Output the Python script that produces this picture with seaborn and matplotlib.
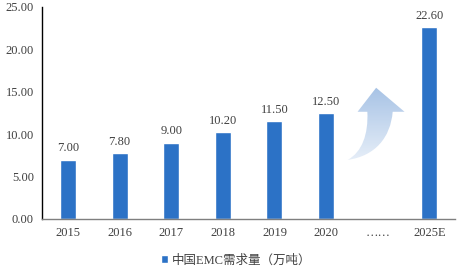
import numpy as np
import pandas as pd
import matplotlib
matplotlib.use("Agg")
import matplotlib.pyplot as plt
import seaborn as sns
from matplotlib.path import Path
from matplotlib.patches import PathPatch
from matplotlib.colors import LinearSegmentedColormap

categories = ["2015", "2016", "2017", "2018", "2019", "2020", "……", "2025E"]
values = [7.00, 7.80, 9.00, 10.20, 11.50, 12.50, np.nan, 22.60]
series_name = "中国EMC需求量（万吨）"
y_ticks = [0, 5, 10, 15, 20, 25]

sns.set_theme(style="white")
FONT = ["Liberation Serif", "Noto Sans CJK SC", "DejaVu Sans"]
plt.rcParams["font.family"] = FONT

bar_color = "#2c72c6"
text_color = "#404040"

df = pd.DataFrame({"cat": categories, "val": values, "series": series_name})

fig = plt.figure(figsize=(4.63, 2.67), dpi=100)
ax = fig.add_axes([0.091, 0.18, 0.892, 0.795])

sns.barplot(data=df, x="cat", y="val", hue="series", palette=[bar_color],
            order=categories, width=0.31, ax=ax, legend=True, saturation=1)

ax.set_ylim(0, 25)
ax.set_xlim(-0.5, len(categories) - 0.5)
ax.set_yticks(y_ticks)
ax.set_yticklabels([f"{t:.2f}" for t in y_ticks], fontsize=9, color=text_color)
ax.set_xticks(range(len(categories)))
ax.set_xticklabels(categories, fontsize=9, color=text_color)
ax.set_xlabel("")
ax.set_ylabel("")
ax.tick_params(axis="y", length=0, pad=6)
ax.tick_params(axis="x", length=0, pad=6)

for s in ["top", "right"]:
    ax.spines[s].set_visible(False)
ax.spines["left"].set_color("#000000")
ax.spines["left"].set_linewidth(1.0)
ax.spines["bottom"].set_color("#7f7f7f")
ax.spines["bottom"].set_linewidth(1.0)

for i, v in enumerate(values):
    if not np.isnan(v):
        ax.text(i, v + 0.6, f"{v:.2f}", ha="center", va="bottom",
                fontsize=9, color=text_color)

# decorative curved arrow with gradient
verts = [
    (5.42, 6.96),
    (5.70, 7.9), (5.82, 10.0), (5.80, 12.62),
    (5.61, 12.62),
    (5.97, 15.45),
    (6.52, 12.62),
    (6.29, 12.62),
    (6.25, 9.6), (5.95, 7.4), (5.42, 6.96),
    (5.42, 6.96),
]
codes = [Path.MOVETO,
         Path.CURVE4, Path.CURVE4, Path.CURVE4,
         Path.LINETO, Path.LINETO, Path.LINETO, Path.LINETO,
         Path.CURVE4, Path.CURVE4, Path.CURVE4,
         Path.CLOSEPOLY]
path = Path(verts, codes)
patch = PathPatch(path, facecolor="none", edgecolor="none")
ax.add_patch(patch)
grad = np.linspace(0, 1, 256).reshape(-1, 1)
cmap = LinearSegmentedColormap.from_list("g", ["#e6eef8", "#a6c2e5"])
im = ax.imshow(grad, cmap=cmap, origin="lower", aspect="auto",
               extent=[5.4, 6.55, 6.9, 15.5], zorder=1)
im.set_clip_path(patch)

sns.move_legend(ax, "upper center", bbox_to_anchor=(0.47, -0.115),
                frameon=False, title=None, fontsize=9,
                handlelength=0.6, handleheight=0.6, handletextpad=0.3)
for t in ax.get_legend().get_texts():
    t.set_color(text_color)

fig.savefig("out.png", dpi=100)
